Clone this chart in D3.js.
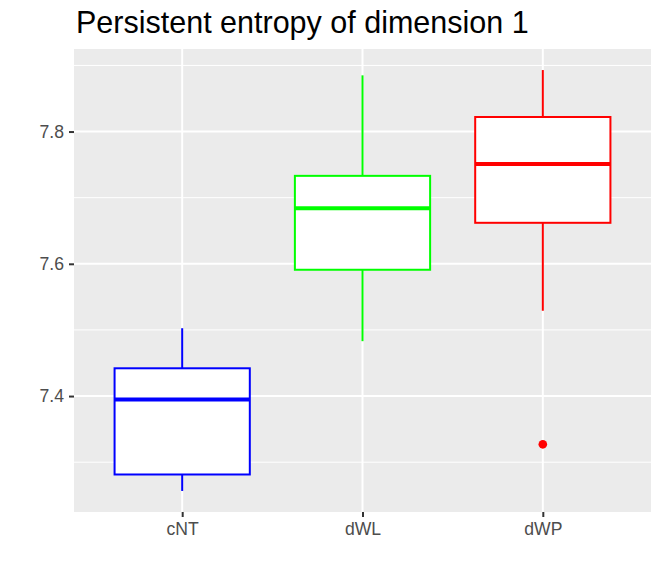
<!DOCTYPE html>
<html>
<head>
<meta charset="utf-8">
<script src="https://cdn.jsdelivr.net/npm/d3@7/dist/d3.min.js"></script>
<style>
  html, body { margin: 0; padding: 0; background: #ffffff; }
  svg { display: block; font-family: "Liberation Sans", Arial, sans-serif; }
</style>
</head>
<body>
<div id="chart"></div>
<script>
// box summaries
const groups = ['cNT', 'dWL', 'dWP'];
const colors = ['#0000ff', '#00ff00', '#ff0000'];
const whiskerLow = [7.2565, 7.483, 7.529];
const q1 = [7.2814, 7.591, 7.662];
const median = [7.3947, 7.684, 7.751];
const q3 = [7.442, 7.733, 7.822];
const whiskerHigh = [7.5026, 7.885, 7.893];
const outliers = [[], [], [7.327]];
const yTicks = [7.4, 7.6, 7.8];
const yMinor = [7.3, 7.5, 7.7, 7.9];

const width = 663;
const height = 580;
const panel = { left: 74, right: 651, top: 49, bottom: 512 };

const svg = d3.select('#chart').append('svg')
    .attr('width', width)
    .attr('height', height);

// y: ggplot-style 5% expansion on the data range
const allVals = whiskerLow.concat(whiskerHigh, outliers.flat());
const lo = d3.min(allVals);
const hi = d3.max(allVals);
const pad = (hi - lo) * 0.05;
const y = d3.scaleLinear()
    .domain([lo - pad, hi + pad])
    .range([panel.bottom, panel.top]);

// x: discrete, 0.6 units of expansion each side
const x = d3.scalePoint()
    .domain(groups)
    .range([panel.left, panel.right])
    .padding(0.6);
const boxW = x.step() * 0.75;

// panel background
svg.append('rect')
    .attr('x', panel.left)
    .attr('y', panel.top)
    .attr('width', panel.right - panel.left)
    .attr('height', panel.bottom - panel.top)
    .attr('fill', '#ebebeb');

// grid
svg.append('g').selectAll('line')
    .data(yMinor)
    .join('line')
    .attr('x1', panel.left).attr('x2', panel.right)
    .attr('y1', (d) => y(d)).attr('y2', (d) => y(d))
    .attr('stroke', '#ffffff')
    .attr('stroke-width', 1);

svg.append('g').selectAll('line')
    .data(yTicks)
    .join('line')
    .attr('x1', panel.left).attr('x2', panel.right)
    .attr('y1', (d) => y(d)).attr('y2', (d) => y(d))
    .attr('stroke', '#ffffff')
    .attr('stroke-width', 2);

svg.append('g').selectAll('line')
    .data(groups)
    .join('line')
    .attr('x1', (d) => x(d)).attr('x2', (d) => x(d))
    .attr('y1', panel.top).attr('y2', panel.bottom)
    .attr('stroke', '#ffffff')
    .attr('stroke-width', 2);

// axes
const yAxis = svg.append('g')
    .attr('transform', `translate(${panel.left},0)`)
    .call(d3.axisLeft(y).tickValues(yTicks).tickSize(5).tickPadding(5).tickFormat(d3.format('.1f')));
const xAxis = svg.append('g')
    .attr('transform', `translate(0,${panel.bottom})`)
    .call(d3.axisBottom(x).tickSize(5).tickPadding(6));

[yAxis, xAxis].forEach((ax) => {
    ax.select('.domain').remove();
    ax.selectAll('.tick line').attr('stroke', '#333333').attr('stroke-width', 2);
    ax.selectAll('.tick text')
        .attr('fill', '#4d4d4d')
        .attr('font-size', 17.6)
        .attr('font-family', '"Liberation Sans", Arial, sans-serif');
});

// boxes
const boxes = svg.append('g').selectAll('g')
    .data(groups)
    .join('g');

boxes.append('line')
    .attr('x1', (d) => x(d)).attr('x2', (d) => x(d))
    .attr('y1', (d, i) => y(whiskerHigh[i]))
    .attr('y2', (d, i) => y(q3[i]))
    .attr('stroke', (d, i) => colors[i])
    .attr('stroke-width', 2);

boxes.append('line')
    .attr('x1', (d) => x(d)).attr('x2', (d) => x(d))
    .attr('y1', (d, i) => y(q1[i]))
    .attr('y2', (d, i) => y(whiskerLow[i]))
    .attr('stroke', (d, i) => colors[i])
    .attr('stroke-width', 2);

boxes.append('rect')
    .attr('x', (d) => x(d) - boxW / 2)
    .attr('width', boxW)
    .attr('y', (d, i) => y(q3[i]))
    .attr('height', (d, i) => y(q1[i]) - y(q3[i]))
    .attr('fill', '#ffffff')
    .attr('stroke', (d, i) => colors[i])
    .attr('stroke-width', 2);

boxes.append('line')
    .attr('x1', (d) => x(d) - boxW / 2)
    .attr('x2', (d) => x(d) + boxW / 2)
    .attr('y1', (d, i) => y(median[i]))
    .attr('y2', (d, i) => y(median[i]))
    .attr('stroke', (d, i) => colors[i])
    .attr('stroke-width', 4);

boxes.each(function (d, i) {
    d3.select(this).selectAll('circle')
        .data(outliers[i])
        .join('circle')
        .attr('cx', x(d))
        .attr('cy', (v) => y(v))
        .attr('r', 4.3)
        .attr('fill', colors[i]);
});

// title
svg.append('text')
    .attr('x', 76)
    .attr('y', 33)
    .attr('fill', '#000000')
    .attr('font-size', 30.5)
    .text('Persistent entropy of dimension 1');
</script>
</body>
</html>
